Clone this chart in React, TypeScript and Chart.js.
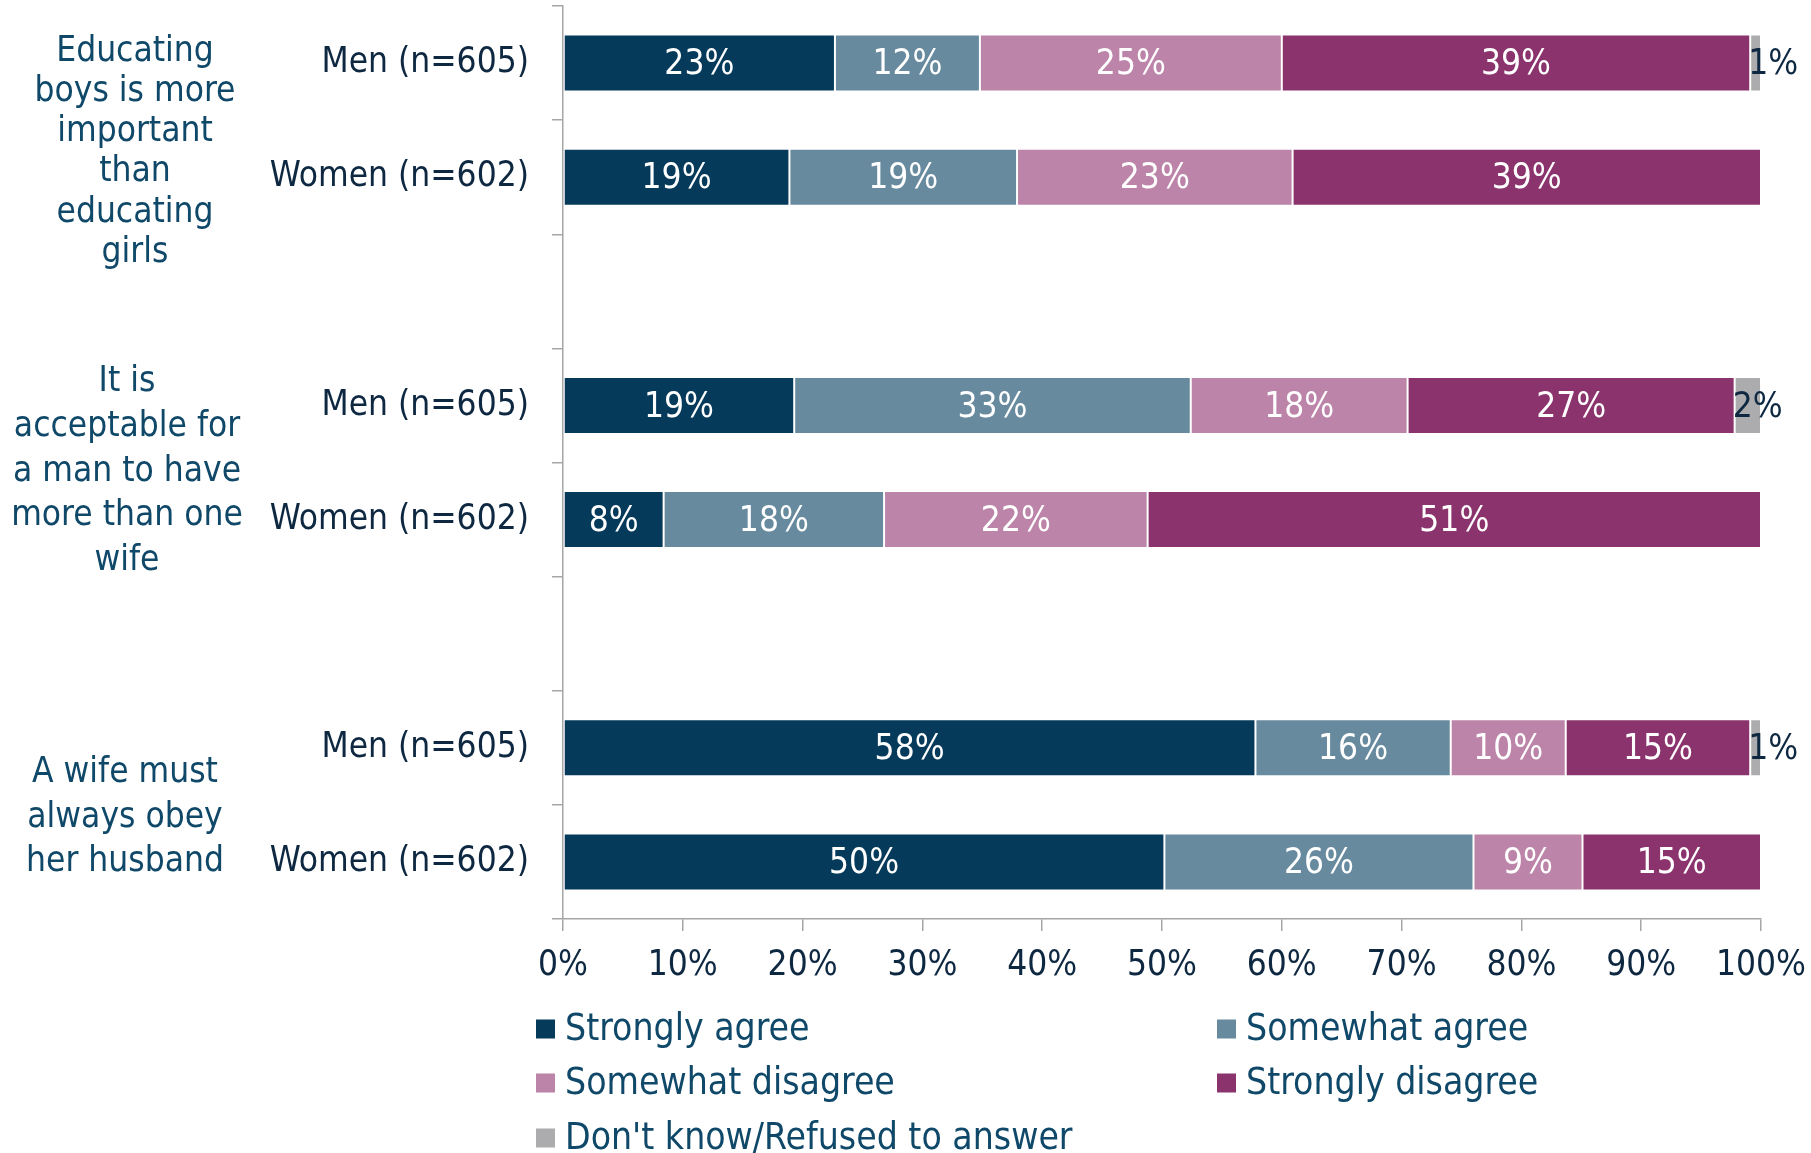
import React, { useEffect, useRef } from "react";
import { Chart, registerables } from "chart.js";

Chart.register(...registerables);

// ---------- data ----------
const categories = [
  "Men (n=605)",
  "Women (n=602)",
  "",
  "Men (n=605)",
  "Women (n=602)",
  "",
  "Men (n=605)",
  "Women (n=602)",
];

const seriesNames = [
  "Strongly agree",
  "Somewhat agree",
  "Somewhat disagree",
  "Strongly disagree",
  "Don't know/Refused to answer",
];

const stronglyAgree = [22.7, 18.9, null, 19.3, 8.4, null, 57.8, 50.2];
const somewhatAgree = [12.1, 19.0, null, 33.1, 18.4, null, 16.3, 25.8];
const somewhatDisagree = [25.2, 23.0, null, 18.1, 22.0, null, 9.6, 9.1];
const stronglyDisagree = [39.1, 39.1, null, 27.3, 51.2, null, 15.4, 14.9];
const dontKnow = [0.9, 0, null, 2.2, 0, null, 0.9, 0];

const groupLines = [
  ["Educating", "boys is more", "important", "than", "educating", "girls"],
  ["It is", "acceptable for", "a man to have", "more than one", "wife"],
  ["A wife must", "always obey", "her husband"],
];
const groupPairs = [
  [0, 1],
  [3, 4],
  [6, 7],
];

const xTicks = [0, 10, 20, 30, 40, 50, 60, 70, 80, 90, 100];

// ---------- style ----------
const colors = ["#053A5B", "#678A9E", "#BC84A8", "#8B336C", "#ACACAE"];
const FONT = "'DejaVu Sans Condensed', 'DejaVu Sans', sans-serif";
const FS = 35;
const LEGEND_FS = 37;
const TEXT_DARK = "#0E2841";
const TEXT_GROUP = "#0F4868";
const AXIS_GRAY = "#A6A6A6";

const groupStyle = [
  { x: 135, offset: 32, lineH: 40.2 },
  { x: 127, offset: 9, lineH: 44.8 },
  { x: 125, offset: 13, lineH: 44.5 },
];

const legendLayout = {
  colX: [536, 1217],
  rowY: [1030, 1084, 1139],
  box: 19,
  textGap: 29,
};

const segmentLabels = {
  id: "segmentLabels",
  afterDatasetsDraw(chart: any) {
    const ctx = chart.ctx;
    ctx.save();
    ctx.font = `${FS}px ${FONT}`;
    ctx.textBaseline = "middle";
    chart.data.datasets.forEach((ds: any, i: number) => {
      const meta = chart.getDatasetMeta(i);
      meta.data.forEach((el: any, j: number) => {
        const v = ds.data[j];
        if (v == null || v <= 0) return;
        const label = Math.round(v) + "%";
        if (i === 4) {
          ctx.fillStyle = TEXT_DARK;
          ctx.textAlign = "left";
          ctx.fillText(label, Math.min(el.x, el.base) - 2, el.y + 2);
        } else {
          ctx.fillStyle = "#FFFFFF";
          ctx.textAlign = "center";
          ctx.fillText(label, (el.x + el.base) / 2, el.y + 2);
        }
      });
    });
    ctx.restore();
  },
};

const extras = {
  id: "extras",
  afterDraw(chart: any) {
    const ctx = chart.ctx;
    const yScale = chart.scales.y;
    ctx.save();
    ctx.font = `${FS}px ${FONT}`;
    ctx.textBaseline = "middle";
    // group labels
    ctx.fillStyle = TEXT_GROUP;
    ctx.textAlign = "center";
    groupLines.forEach((lines, g) => {
      const [a, b] = groupPairs[g];
      const mid = (yScale.getPixelForValue(a) + yScale.getPixelForValue(b)) / 2;
      const st = groupStyle[g];
      const center = mid + st.offset;
      const top = center - ((lines.length - 1) * st.lineH) / 2;
      lines.forEach((ln, k) => {
        ctx.fillText(ln, st.x, top + k * st.lineH);
      });
    });
    // legend
    ctx.font = `${LEGEND_FS}px ${FONT}`;
    ctx.textAlign = "left";
    seriesNames.forEach((name, i) => {
      const col = i % 2;
      const row = Math.floor(i / 2);
      const x = legendLayout.colX[col];
      const y = legendLayout.rowY[row];
      ctx.fillStyle = colors[i];
      ctx.fillRect(x, y - legendLayout.box / 2 - 1, legendLayout.box, legendLayout.box);
      ctx.fillStyle = TEXT_GROUP;
      ctx.fillText(name, x + legendLayout.textGap, y);
    });
    ctx.restore();
  },
};

export default function App() {
  const ref = useRef<HTMLCanvasElement>(null);
  useEffect(() => {
    if (!ref.current) return;
    const seriesData = [stronglyAgree, somewhatAgree, somewhatDisagree, stronglyDisagree, dontKnow];
    const chart = new Chart(ref.current, {
      type: "bar",
      data: {
        labels: categories,
        datasets: seriesData.map((d, i) => ({
          label: seriesNames[i],
          data: d,
          backgroundColor: colors[i],
          borderColor: "rgba(255,255,255,0.55)",
          borderWidth: 1,
          borderSkipped: false,
          categoryPercentage: 1,
          barPercentage: 0.5,
        })),
      },
      options: {
        indexAxis: "y",
        responsive: false,
        animation: false,
        devicePixelRatio: 1,
        layout: { padding: { left: 0, right: 50, top: 6, bottom: 174 } },
        plugins: {
          legend: { display: false },
          tooltip: { enabled: false },
          title: { display: false },
        },
        scales: {
          x: {
            stacked: true,
            min: 0,
            max: 100,
            afterBuildTicks(scale: any) {
              scale.ticks = xTicks.map((v) => ({ value: v }));
            },
            afterFit(scale: any) {
              scale.height = 60;
              scale.paddingLeft = 0;
              scale.paddingRight = 0;
            },
            ticks: {
              callback: (v: any) => v + "%",
              color: TEXT_DARK,
              font: { family: FONT, size: FS },
              padding: 14,
              maxRotation: 0,
              autoSkip: false,
            },
            grid: {
              drawOnChartArea: false,
              drawTicks: true,
              tickLength: 12,
              color: AXIS_GRAY,
              lineWidth: 1.5,
            },
            border: { display: true, color: AXIS_GRAY, width: 1.5 },
          },
          y: {
            stacked: true,
            afterFit(scale: any) {
              scale.width = 563;
              scale.paddingTop = 0;
              scale.paddingBottom = 0;
            },
            ticks: {
              color: TEXT_DARK,
              font: { family: FONT, size: FS },
              padding: 23,
              autoSkip: false,
            },
            grid: {
              offset: true,
              drawOnChartArea: false,
              drawTicks: true,
              tickLength: 11,
              color: AXIS_GRAY,
              lineWidth: 1.5,
            },
            border: { display: true, color: AXIS_GRAY, width: 1.5 },
          },
        },
      },
      plugins: [segmentLabels, extras],
    } as any);
    return () => chart.destroy();
  }, []);

  return (
    <div style={{ position: "absolute", left: 0, top: 0, width: 1811, height: 1153, background: "#fff" }}>
      <canvas ref={ref} width={1811} height={1153} style={{ width: 1811, height: 1153, display: "block" }} />
    </div>
  );
}
